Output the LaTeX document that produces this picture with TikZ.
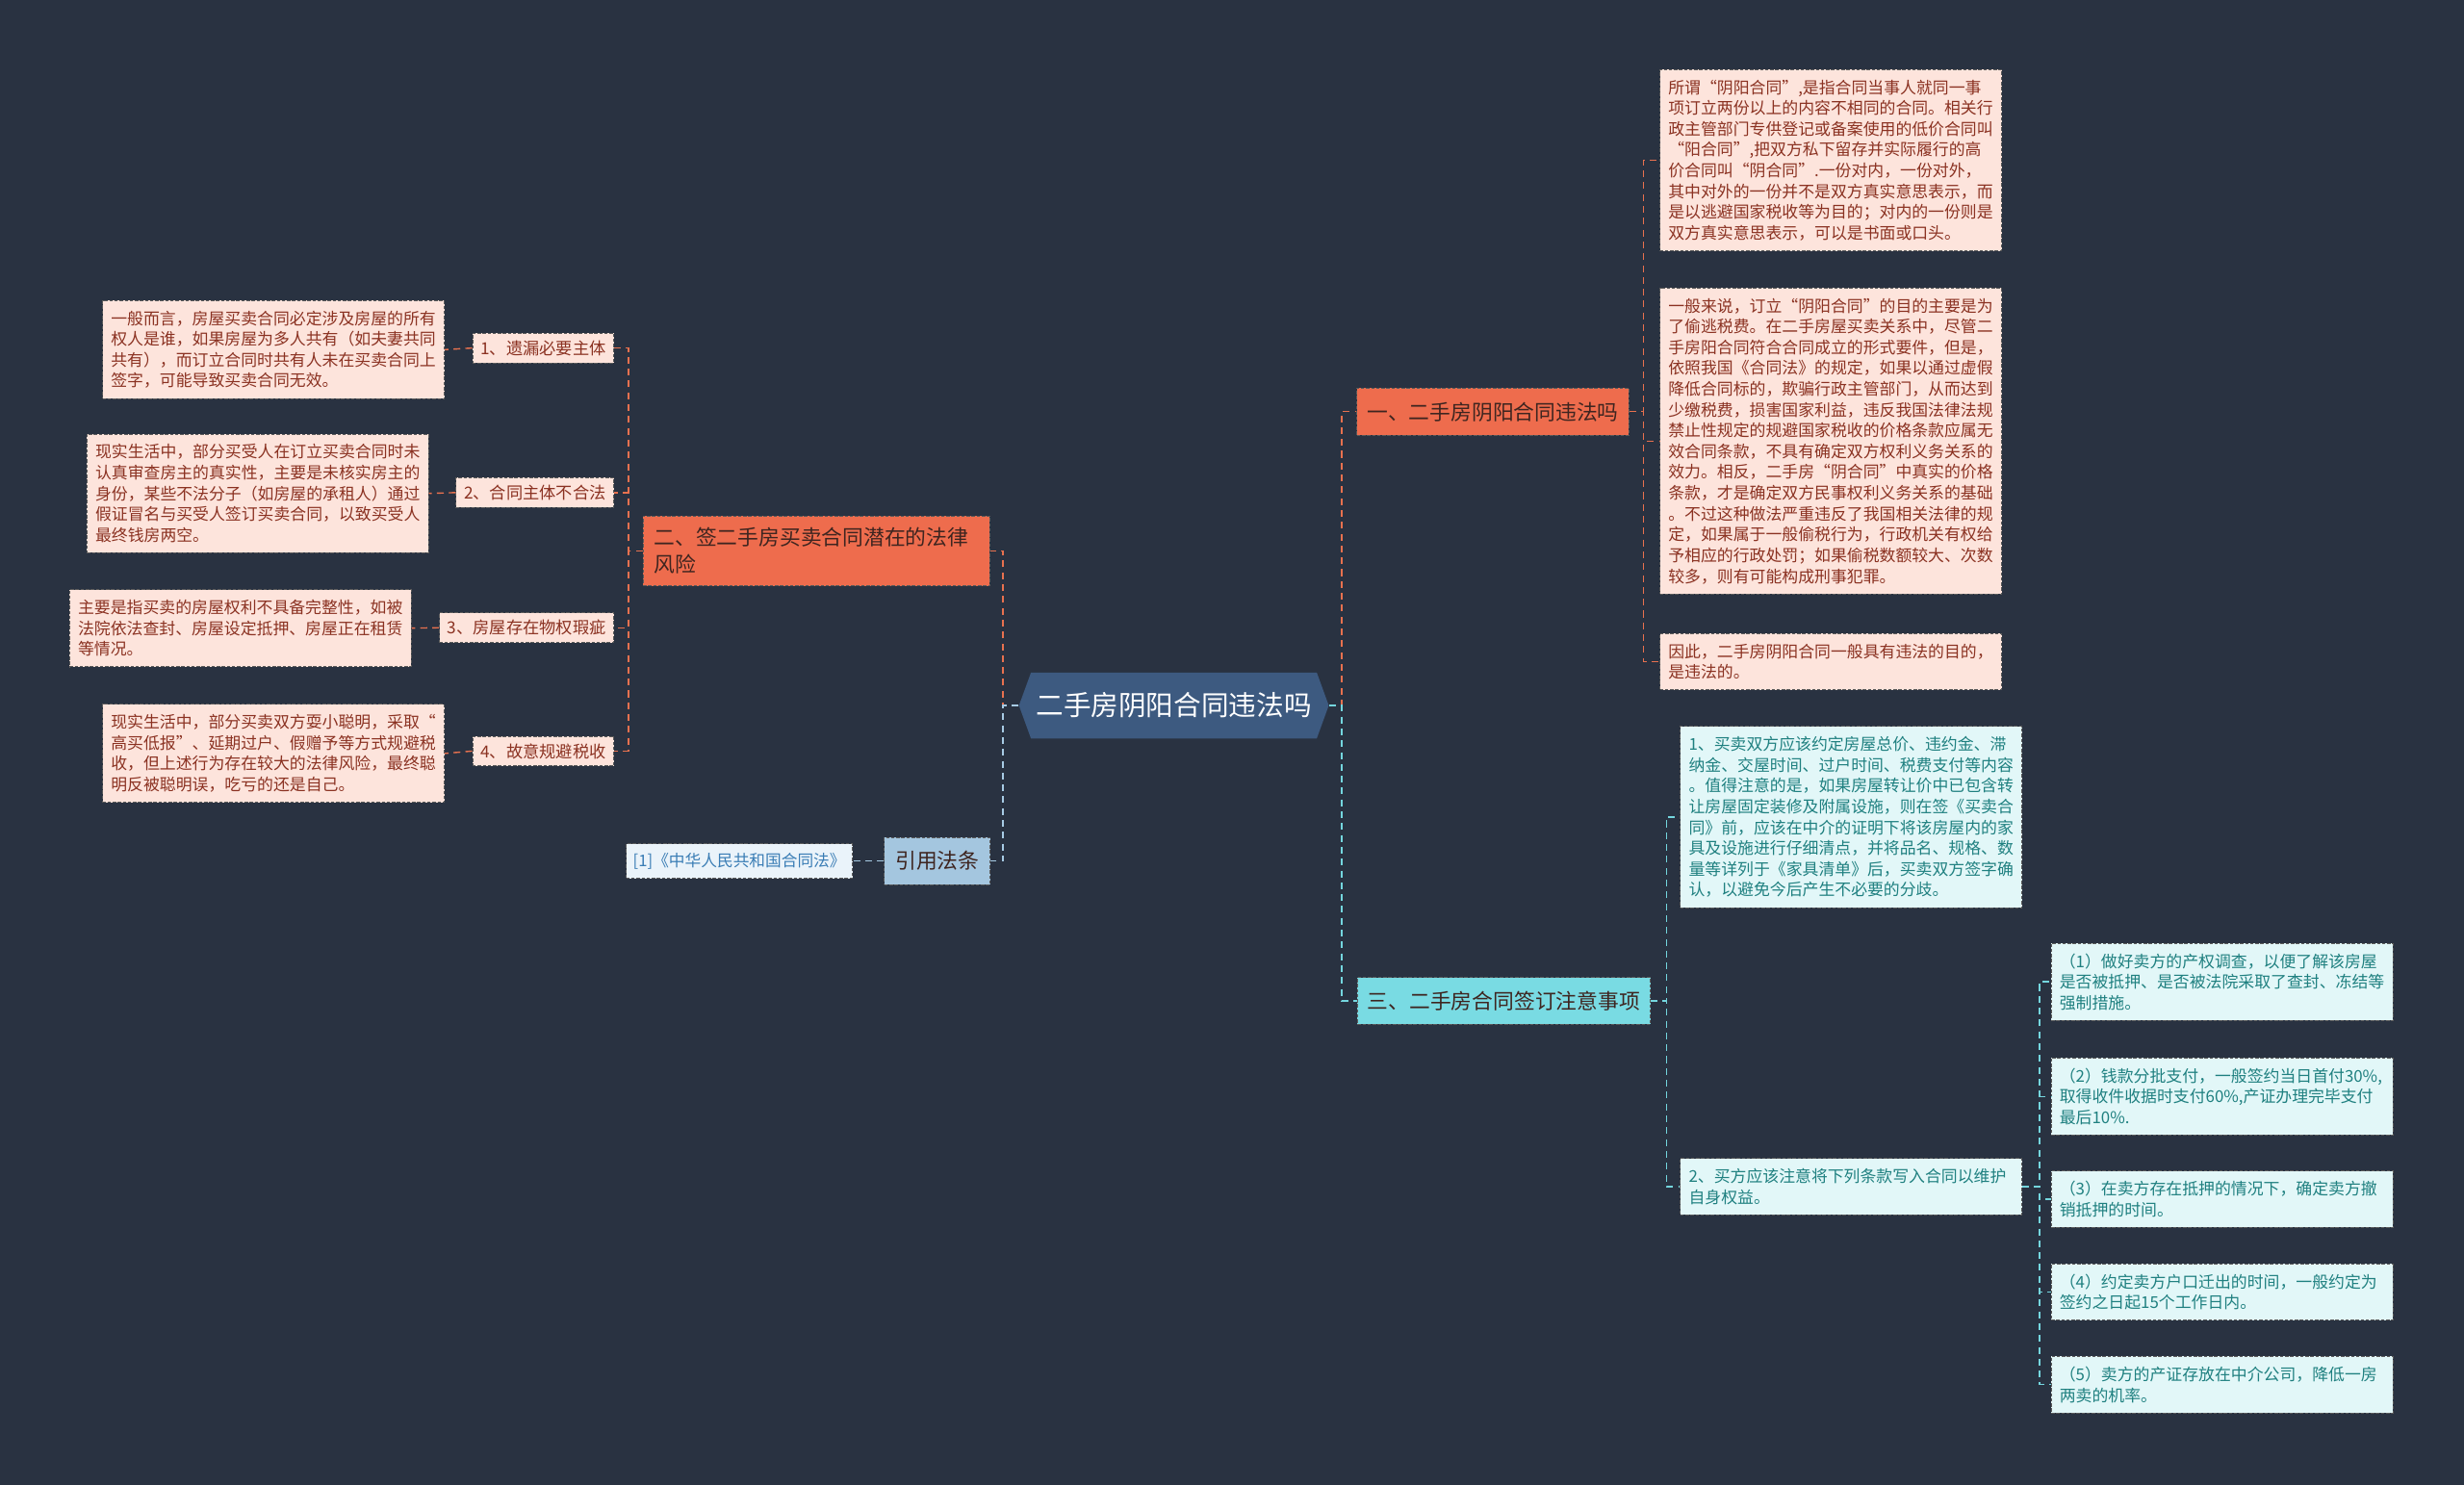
\documentclass[tikz,border=0pt]{standalone}
\usepackage{fontspec}
\setmainfont{Noto Sans CJK SC}
\usetikzlibrary{shapes.symbols}

\definecolor{bg}{HTML}{293241}
\definecolor{rootfill}{HTML}{3D5A80}
\definecolor{redfill}{HTML}{EE6C4D}
\definecolor{cyanfill}{HTML}{79DBE3}
\definecolor{citefill}{HTML}{A4C6DF}
\definecolor{pinkfill}{HTML}{FDE4DC}
\definecolor{lightcyan}{HTML}{E2F7F8}
\definecolor{lightblue}{HTML}{EAF3FA}
\definecolor{redtext}{HTML}{8B3222}
\definecolor{darktext}{HTML}{3E2520}
\definecolor{cyantext}{HTML}{1F8080}
\definecolor{bluetext}{HTML}{3A7DB5}
\definecolor{boxline}{HTML}{5A5A5A}
\definecolor{linkred}{HTML}{E8714F}
\definecolor{linkcyan}{HTML}{74D6DE}
\definecolor{linkblue}{HTML}{A7CBE4}

\tikzset{
  box/.style={draw=boxline, dash pattern=on 2pt off 1pt, line width=0.5pt},
  leaf/.style={box, anchor=north west, align=left, text width=192pt,
    inner xsep=5pt, inner ysep=6pt, font=\fontsize{9.6pt}{12.3pt}\selectfont},
  leafred/.style={leaf, fill=pinkfill, text=redtext},
  leafcyan/.style={leaf, fill=lightcyan, text=cyantext},
  risk/.style={box, fill=pinkfill, text=redtext, anchor=east, minimum height=17.6pt,
    inner xsep=4.8pt, inner ysep=2pt, font=\fontsize{9.8pt}{11pt}\selectfont},
  topic/.style={box, minimum height=27.8pt, inner xsep=6pt, inner ysep=2pt,
    text=darktext, font=\fontsize{12.4pt}{15.8pt}\selectfont},
  link/.style={dash pattern=on 4pt off 3pt, line width=0.8pt},
}

\begin{document}
\begin{tikzpicture}[x=0.032653cm, y=-0.032653cm]
  \fill[bg] (0,0) rectangle (1568,945);
  \useasboundingbox (0,0) rectangle (1568,945);

  % centre
  \node[shape=signal, signal to=east and west, signal pointer angle=140,
    fill=rootfill, text=white, minimum height=38.9pt, inner xsep=3pt,
    font=\fontsize{16.3pt}{18pt}\selectfont] (root) at (747,449) {二手房阴阳合同违法吗};

  % first level
  \node[topic, fill=redfill] (r1) at (950,262) {一、二手房阴阳合同违法吗};
  \node[topic, fill=cyanfill] (r3) at (957,637) {三、二手房合同签订注意事项};
  \node[topic, fill=redfill, align=left, text width=192pt, inner xsep=6.5pt, inner ysep=7pt]
    (l2) at (519.5,350.5) {二、签二手房买卖合同潜在的法律\\风险};
  \node[topic, fill=citefill, inner xsep=6.5pt] (cite) at (596.5,548) {引用法条};

  % right: is it illegal
  \node[leafred] (r1a) at (1056,44) {所谓“阴阳合同”,是指合同当事人就同一事\\项订立两份以上的内容不相同的合同。相关行\\政主管部门专供登记或备案使用的低价合同叫\\“阳合同”,把双方私下留存并实际履行的高\\价合同叫“阴合同”.一份对内，一份对外，\\其中对外的一份并不是双方真实意思表示，而\\是以逃避国家税收等为目的；对内的一份则是\\双方真实意思表示，可以是书面或口头。};
  \node[leafred] (r1b) at (1056,183) {一般来说，订立“阴阳合同”的目的主要是为\\了偷逃税费。在二手房屋买卖关系中，尽管二\\手房阳合同符合合同成立的形式要件，但是，\\依照我国《合同法》的规定，如果以通过虚假\\降低合同标的，欺骗行政主管部门，从而达到\\少缴税费，损害国家利益，违反我国法律法规\\禁止性规定的规避国家税收的价格条款应属无\\效合同条款，不具有确定双方权利义务关系的\\效力。相反，二手房“阴合同”中真实的价格\\条款，才是确定双方民事权利义务关系的基础\\。不过这种做法严重违反了我国相关法律的规\\定，如果属于一般偷税行为，行政机关有权给\\予相应的行政处罚；如果偷税数额较大、次数\\较多，则有可能构成刑事犯罪。};
  \node[leafred] (r1c) at (1056,403) {因此，二手房阴阳合同一般具有违法的目的，\\是违法的。};

  % right: points to note
  \node[leafcyan] (r3a) at (1069,462) {1、买卖双方应该约定房屋总价、违约金、滞\\纳金、交屋时间、过户时间、税费支付等内容\\。值得注意的是，如果房屋转让价中已包含转\\让房屋固定装修及附属设施，则在签《买卖合\\同》前，应该在中介的证明下将该房屋内的家\\具及设施进行仔细清点，并将品名、规格、数\\量等详列于《家具清单》后，买卖双方签字确\\认，以避免今后产生不必要的分歧。};
  \node[leafcyan] (r3b) at (1069,737) {2、买方应该注意将下列条款写入合同以维护\\自身权益。};
  \node[leafcyan] (sub1) at (1305,600) {（1）做好卖方的产权调查，以便了解该房屋\\是否被抵押、是否被法院采取了查封、冻结等\\强制措施。};
  \node[leafcyan] (sub2) at (1305,673) {（2）钱款分批支付，一般签约当日首付30\%,\\取得收件收据时支付60\%,产证办理完毕支付\\最后10\%.};
  \node[leafcyan] (sub3) at (1305,745) {（3）在卖方存在抵押的情况下，确定卖方撤\\销抵押的时间。};
  \node[leafcyan] (sub4) at (1305,804) {（4）约定卖方户口迁出的时间，一般约定为\\签约之日起15个工作日内。};
  \node[leafcyan] (sub5) at (1305,863) {（5）卖方的产证存放在中介公司，降低一房\\两卖的机率。};

  % left: risks
  \node[risk] (risk1) at (391,221.5) {1、遗漏必要主体};
  \node[risk] (risk2) at (391,313.5) {2、合同主体不合法};
  \node[risk] (risk3) at (391,399.5) {3、房屋存在物权瑕疵};
  \node[risk] (risk4) at (391,478) {4、故意规避税收};
  \node[leafred] (rtext1) at (65,191) {一般而言，房屋买卖合同必定涉及房屋的所有\\权人是谁，如果房屋为多人共有（如夫妻共同\\共有），而订立合同时共有人未在买卖合同上\\签字，可能导致买卖合同无效。};
  \node[leafred] (rtext2) at (55,276) {现实生活中，部分买受人在订立买卖合同时未\\认真审查房主的真实性，主要是未核实房主的\\身份，某些不法分子（如房屋的承租人）通过\\假证冒名与买受人签订买卖合同，以致买受人\\最终钱房两空。};
  \node[leafred] (rtext3) at (44,375) {主要是指买卖的房屋权利不具备完整性，如被\\法院依法查封、房屋设定抵押、房屋正在租赁\\等情况。};
  \node[leafred] (rtext4) at (65,448) {现实生活中，部分买卖双方耍小聪明，采取“\\高买低报”、延期过户、假赠予等方式规避税\\收，但上述行为存在较大的法律风险，最终聪\\明反被聪明误，吃亏的还是自己。};

  % left: cited law
  \node[box, fill=lightblue, text=bluetext, minimum height=20.4pt, inner xsep=4pt,
    font=\fontsize{9.5pt}{11pt}\selectfont] (law) at (470.5,548) {[1]《中华人民共和国合同法》};

  % connectors
  \draw[link, linkred] (root.east) -- ++(8,0) |- (r1.west);
  \draw[link, linkcyan] (root.east) -- ++(8,0) |- (r3.west);
  \draw[link, linkred] (root.west) -- ++(-10,0) |- (l2.east);
  \draw[link, linkblue] (root.west) -- ++(-10,0) |- (cite.east);
  \foreach \n in {a,b,c}
    \draw[link, linkred] (r1.east) -- ++(9,0) |- (r1\n.west);
  \foreach \n in {a,b}
    \draw[link, linkcyan] (r3.east) -- ++(10,0) |- (r3\n.west);
  \foreach \n in {1,...,5}
    \draw[link, linkcyan] (r3b.east) -- ++(11,0) |- (sub\n.west);
  \foreach \n in {1,...,4}{
    \draw[link, linkred] (l2.west) -- ++(-9,0) |- (risk\n.east);
    \draw[link, linkred] (risk\n.west) -- (rtext\n.east);
  }
  \draw[link, linkblue] (cite.west) -- (law.east);
\end{tikzpicture}
\end{document}
